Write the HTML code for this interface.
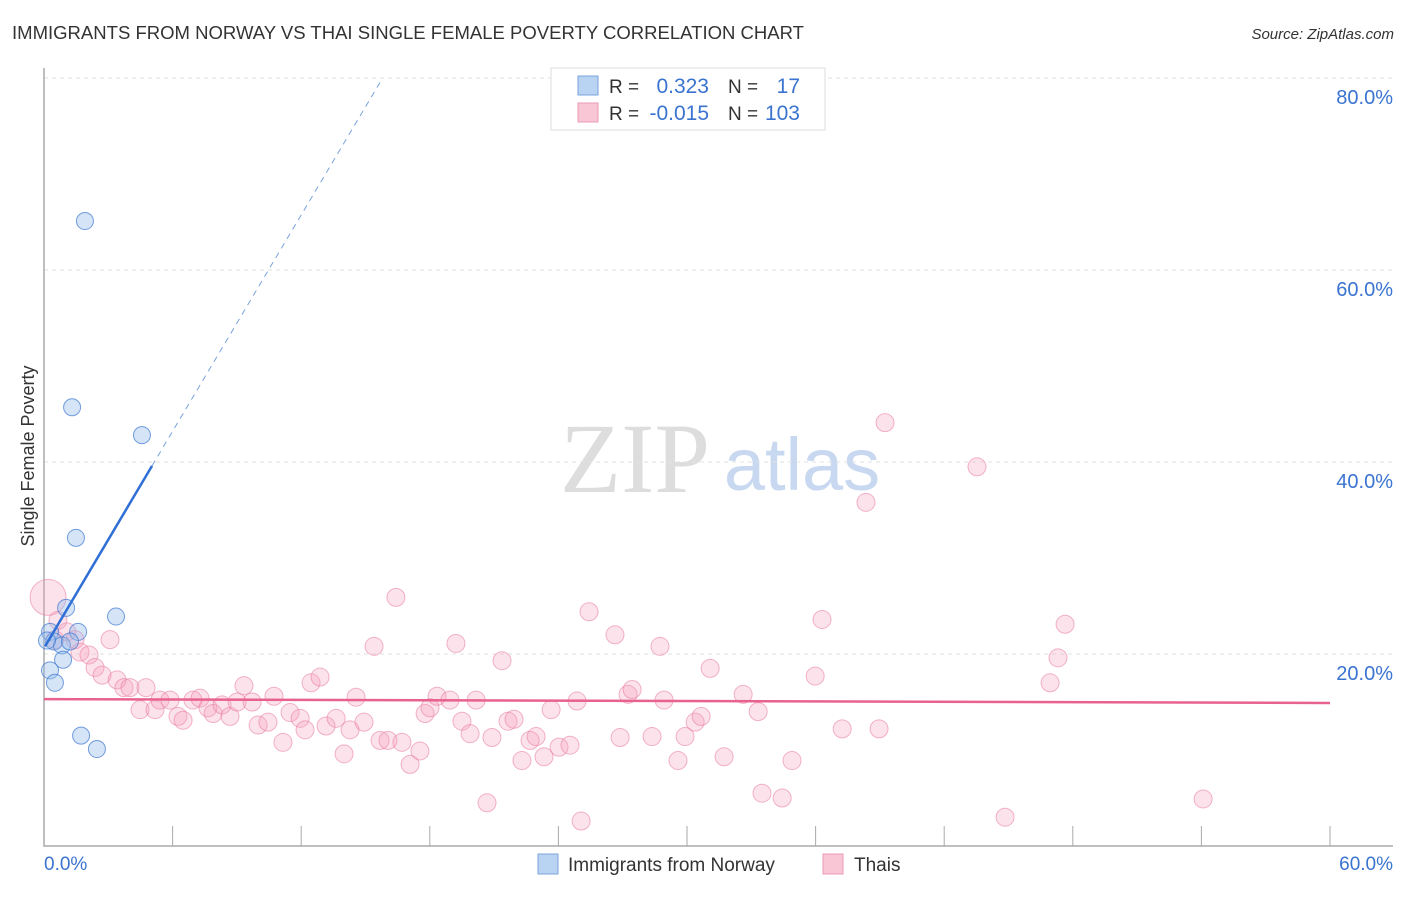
<!DOCTYPE html>
<html><head><meta charset="utf-8"><style>
body{margin:0;background:#fff;font-family:"Liberation Sans",sans-serif;}
svg text{font-family:"Liberation Sans",sans-serif;}
</style></head><body>
<svg id="chart" width="1406" height="892" xmlns="http://www.w3.org/2000/svg">
<text x="12" y="39" font-size="18" fill="#333" textLength="792" lengthAdjust="spacingAndGlyphs">IMMIGRANTS FROM NORWAY VS THAI SINGLE FEMALE POVERTY CORRELATION CHART</text>
<text x="1394" y="39" font-size="15" fill="#333" font-style="italic" text-anchor="end">Source: ZipAtlas.com</text>
<text transform="translate(34,456) rotate(-90)" font-size="18" fill="#333" text-anchor="middle">Single Female Poverty</text>
<g>
<text x="635" y="492" font-size="100" fill="#ddd" style="font-family:'Liberation Serif',serif" text-anchor="middle">ZIP</text>
<text x="802" y="490" font-size="74" fill="#c8d8f0" text-anchor="middle">atlas</text>
</g>
<g id="grid"></g><g id="pts"></g><g id="lines"></g>
<g>
<rect x="551" y="68" width="274" height="62" fill="#fff" stroke="#ddd"/>
<rect x="578" y="76" width="20" height="19" fill="#b9d3f3" stroke="#7aa3dc"/>
<rect x="578" y="103" width="20" height="19" fill="#f9c6d5" stroke="#eb9ab4"/>
<text x="609" y="93" font-size="19" fill="#333">R =</text><text x="709" y="93" font-size="21" fill="#3a74d0" text-anchor="end">0.323</text>
<text x="728" y="93" font-size="19" fill="#333">N =</text><text x="800" y="93" font-size="21" fill="#3a74d0" text-anchor="end">17</text>
<text x="609" y="120" font-size="19" fill="#333">R =</text><text x="709" y="120" font-size="21" fill="#3a74d0" text-anchor="end">-0.015</text>
<text x="728" y="120" font-size="19" fill="#333">N =</text><text x="800" y="120" font-size="21" fill="#3a74d0" text-anchor="end">103</text>
</g>
<g>
<rect x="538" y="854" width="20" height="20" fill="#b9d3f3" stroke="#7aa3dc"/>
<text x="568" y="871" font-size="19" fill="#333">Immigrants from Norway</text>
<rect x="823" y="854" width="20" height="20" fill="#f9c6d5" stroke="#eb9ab4"/>
<text x="854" y="871" font-size="19" fill="#333">Thais</text>
</g>
</svg>
<script>
const xTicks=[0,6,12,18,24,30,36,42,48,54,60];
const yTicks=[20,40,60,80];
const blueX=[1.91,1.31,4.57,1.49,1.03,3.36,1.59,0.28,0.47,0.84,1.21,0.89,0.28,0.51,1.73,2.47,0.14];
const blueY=[65.1,45.7,42.8,32.1,24.8,23.9,22.3,22.3,21.3,20.9,21.3,19.4,18.3,17.0,11.5,10.1,21.4];
const pinkX=[0.19,0.65,0.51,1.07,1.45,1.68,2.10,2.38,2.71,3.08,3.41,3.73,4.01,4.48,4.76,5.18,5.41,5.88,6.25,6.49,6.95,7.28,7.65,7.89,8.31,8.68,9.01,9.33,9.71,9.99,10.45,10.73,11.15,11.48,11.95,12.18,12.46,12.88,13.16,13.63,14.00,14.28,14.56,14.93,15.40,15.68,16.05,16.42,16.70,17.08,17.54,17.78,18.01,18.34,18.94,19.22,19.50,19.88,20.16,20.67,20.90,21.37,21.65,21.93,22.30,22.68,22.96,23.33,23.66,24.03,24.54,24.87,25.06,25.43,26.64,26.88,27.25,27.44,28.37,28.74,28.93,29.58,29.91,30.38,30.66,31.08,31.73,32.62,33.32,33.50,34.44,34.90,35.98,36.30,37.24,38.35,38.96,39.24,43.53,44.84,46.94,47.31,47.64,54.08];
const pinkY=[25.9,23.5,21.5,22.3,21.5,20.2,19.9,18.6,17.8,21.5,17.3,16.5,16.5,14.2,16.5,14.2,15.2,15.2,13.5,13.1,15.2,15.4,14.4,13.8,14.7,13.5,15.0,16.7,15.0,12.6,12.9,15.6,10.8,13.9,13.3,12.1,17.0,17.6,12.5,13.3,9.6,12.1,15.5,12.9,20.8,11.0,11.0,25.9,10.8,8.5,9.9,13.8,14.4,15.6,15.2,21.1,13.0,11.7,15.2,4.5,11.3,19.3,13.0,13.2,8.9,11.0,11.4,9.3,14.2,10.3,10.5,15.1,2.6,24.4,22.0,11.3,15.8,16.3,11.4,20.8,15.2,8.9,11.4,12.9,13.5,18.5,9.3,15.8,14.0,5.5,5.0,8.9,17.7,23.6,12.2,35.8,12.2,44.1,39.5,3.0,17.0,19.6,23.1,4.9];
const blueTrend=[[0.05,20.8],[5.04,39.6],[15.8,80]];
const pinkTrend=[[0,15.3],[60,14.9]];
const X=v=>44+v/60*1286, Y=v=>846-v*9.6;
const NS="http://www.w3.org/2000/svg";
function mk(tag,attrs,parent){const e=document.createElementNS(NS,tag);for(const k in attrs)e.setAttribute(k,attrs[k]);parent.appendChild(e);return e;}
const grid=document.getElementById('grid');
yTicks.forEach(t=>{
 const l=mk('line',{x1:44,x2:1393,y1:Y(t),y2:Y(t),stroke:'#e2e2e2','stroke-dasharray':'4 4'},grid);
 
 
 const tx=mk('text',{x:1393,y:Y(t)+26,'font-size':20,fill:'#3a74d0','text-anchor':'end'},grid);tx.textContent=t.toFixed(1)+'%';
 
 
});
const ax=mk('path',{d:'M44 68V846H1393',fill:'none',stroke:'#aaa','stroke-width':1.5},grid);


xTicks.forEach((t,i)=>{if(i==0)return;
 const l=mk('line',{x1:X(t),x2:X(t),y1:826,y2:846,stroke:'#aaa'},grid);
 
 });
[[0,'start',44],[60,'end',1393]].forEach(([t,a,x])=>{const tx=mk('text',{x:x,y:870,'font-size':19,fill:'#3a74d0','text-anchor':a},grid);tx.textContent=t.toFixed(1)+'%';
 
 });
const pts=document.getElementById('pts');
pinkX.forEach((v,i)=>{const c=mk('circle',{cx:X(v),cy:Y(pinkY[i]),r:i==0?18:9,fill:'rgba(244,160,188,0.3)',stroke:'rgba(232,120,158,0.55)'},pts);
 
 });
blueX.forEach((v,i)=>{const c=mk('circle',{cx:X(v),cy:Y(blueY[i]),r:8.5,fill:'rgba(150,188,235,0.4)',stroke:'rgba(60,120,210,0.7)'},pts);
 
 });
const ln=document.getElementById('lines');
const b1=mk('line',{x1:X(blueTrend[0][0]),y1:Y(blueTrend[0][1]),x2:X(blueTrend[1][0]),y2:Y(blueTrend[1][1]),stroke:'#2f6fd6','stroke-width':2.5},ln);


const b2=mk('line',{x1:X(blueTrend[1][0]),y1:Y(blueTrend[1][1]),x2:X(blueTrend[2][0]),y2:Y(blueTrend[2][1]),stroke:'#7aa3dc','stroke-width':1,'stroke-dasharray':'6 5'},ln);


const p1=mk('line',{x1:X(pinkTrend[0][0]),y1:Y(pinkTrend[0][1]),x2:X(pinkTrend[1][0]),y2:Y(pinkTrend[1][1]),stroke:'#e8628f','stroke-width':2.5},ln);


</script>
</body></html>
